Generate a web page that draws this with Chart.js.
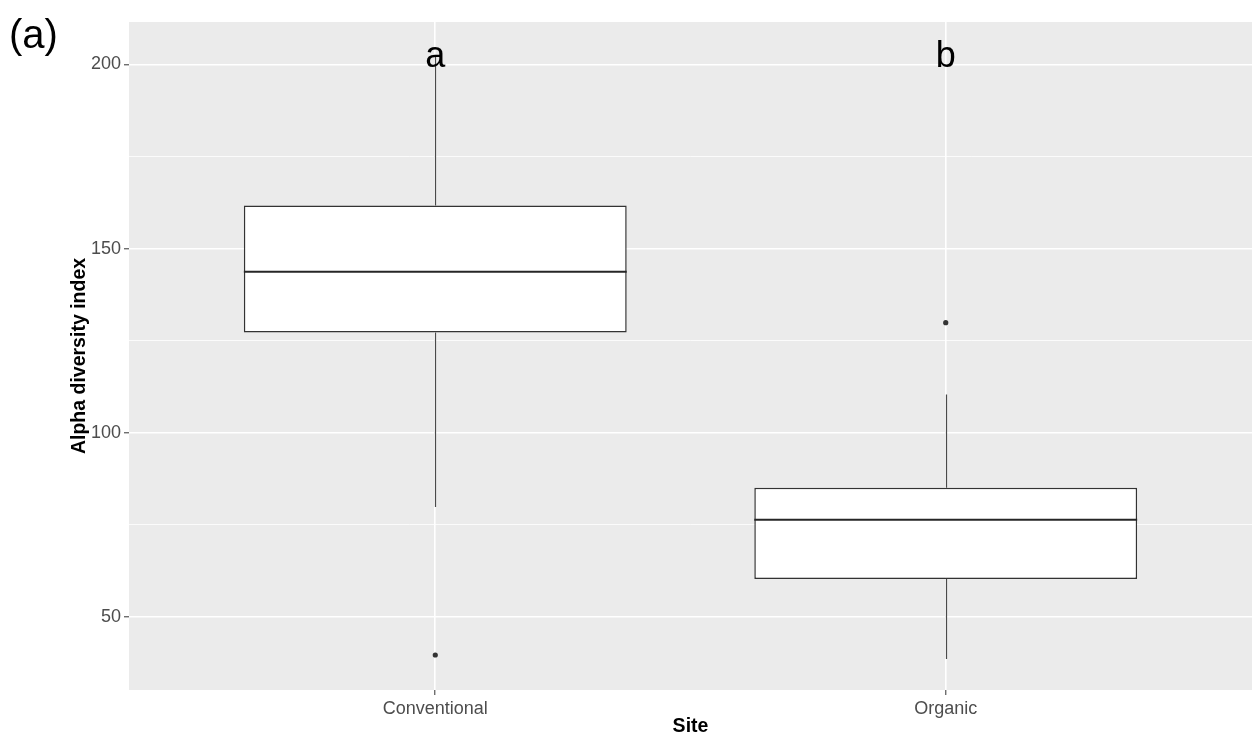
<!DOCTYPE html>
<html>
<head>
<meta charset="utf-8">
<script src="https://cdn.jsdelivr.net/npm/chart.js@4.4.1/dist/chart.umd.min.js"></script>
<style>
  html, body { margin: 0; padding: 0; background: #fff; }
  #wrap { width: 1252px; height: 738px; position: relative; }
</style>
</head>
<body>
<div id="wrap"><canvas id="box-chart"></canvas></div>
<script>
// --- data ---
const sites = ['Conventional', 'Organic'];
const whiskerLow = [79.9, 38.6];
const q1 = [127.2, 60.3];
const medians = [143.7, 76.4];
const q3 = [161.7, 85.1];
const whiskerHigh = [202, 110.4];
const outlierSite = [1, 2];          // 1 = Conventional, 2 = Organic
const outlierValues = [39.7, 129.9];
const sigLetters = ['a', 'b'];
const letterY = 199.2;
const yTicks = [50, 100, 150, 200];
const yMinorTicks = [75, 125, 175];

const FONT = "'Liberation Sans', Arial, sans-serif";
const siteX = sites.map((s, i) => i + 1);

// whiskers, medians, letters, panel tag
const boxExtras = {
  id: 'boxExtras',
  beforeDatasetsDraw(chart) {
    const { ctx, scales: { x, y } } = chart;
    ctx.save();
    ctx.strokeStyle = '#4a4a4a';
    ctx.lineWidth = 1.2;
    siteX.forEach((sx, i) => {
      const px = Math.round(x.getPixelForValue(sx)) + 0.5;
      ctx.beginPath();
      ctx.moveTo(px, y.getPixelForValue(q3[i]));
      ctx.lineTo(px, y.getPixelForValue(whiskerHigh[i]));
      ctx.moveTo(px, y.getPixelForValue(q1[i]));
      ctx.lineTo(px, y.getPixelForValue(whiskerLow[i]));
      ctx.stroke();
    });
    ctx.restore();
  },
  afterDatasetsDraw(chart) {
    const { ctx, scales: { x, y } } = chart;
    const bars = chart.getDatasetMeta(0).data;
    ctx.save();
    ctx.strokeStyle = '#262626';
    ctx.lineWidth = 2;
    bars.forEach((bar, i) => {
      const { x: bx, width } = bar.getProps(['x', 'width'], true);
      const py = y.getPixelForValue(medians[i]);
      ctx.beginPath();
      ctx.moveTo(bx - width / 2, py);
      ctx.lineTo(bx + width / 2, py);
      ctx.stroke();
    });
    // significance letters
    ctx.fillStyle = '#000';
    ctx.font = '36px ' + FONT;
    ctx.textAlign = 'center';
    ctx.textBaseline = 'alphabetic';
    siteX.forEach((sx, i) => {
      ctx.fillText(sigLetters[i], x.getPixelForValue(sx), y.getPixelForValue(letterY));
    });
    // panel tag
    ctx.font = '40px ' + FONT;
    ctx.textAlign = 'left';
    ctx.fillText('(a)', 9, 48);
    ctx.restore();
  }
};

// grey ggplot panel
const panelBg = {
  id: 'panelBg',
  beforeDraw(chart) {
    const { ctx, chartArea: a } = chart;
    ctx.save();
    ctx.fillStyle = '#EBEBEB';
    ctx.fillRect(a.left, a.top, a.right - a.left, a.bottom - a.top);
    ctx.restore();
  }
};

new Chart(document.getElementById('box-chart'), {
  data: {
    datasets: [
      {
        type: 'bar',
        label: 'IQR',
        data: siteX.map((sx, i) => ({ x: sx, y: [q1[i], q3[i]] })),
        backgroundColor: '#ffffff',
        borderColor: '#333333',
        borderWidth: 1.5,
        borderSkipped: false,
        barPercentage: 0.75,
        categoryPercentage: 1.0
      },
      {
        type: 'scatter',
        label: 'outliers',
        data: outlierSite.map((s, i) => ({ x: s, y: outlierValues[i] })),
        backgroundColor: '#333333',
        borderWidth: 0,
        pointRadius: 2.6
      }
    ]
  },
  options: {
    responsive: true,
    maintainAspectRatio: false,
    animation: false,
    layout: { autoPadding: false, padding: { top: 22, right: 0, left: 0, bottom: 0 } },
    plugins: {
      legend: { display: false },
      tooltip: { enabled: false }
    },
    scales: {
      x: {
        type: 'linear',
        min: 0.4,
        max: 2.6,
        offset: false,
        afterBuildTicks: s => { s.ticks = siteX.map(v => ({ value: v })); },
        afterFit: s => { s.height = 48; },
        border: { display: false },
        grid: {
          offset: false,
          color: '#ffffff',
          lineWidth: 1.6,
          tickLength: 5,
          tickColor: '#333333',
          tickWidth: 1
        },
        ticks: {
          padding: 3,
          color: '#4D4D4D',
          font: { family: FONT, size: 18 },
          callback: v => sites[Math.round(v) - 1] || ''
        },
        title: {
          display: true,
          text: 'Site',
          color: '#000',
          font: { family: FONT, size: 19.5, weight: 'bold' },
          padding: { top: 0, bottom: 0 }
        }
      },
      y: {
        type: 'linear',
        min: 30.2,
        max: 211.5,
        afterBuildTicks: s => {
          s.ticks = yTicks.concat(yMinorTicks).sort((a, b) => a - b).map(v => ({ value: v }));
        },
        afterFit: s => { s.width = 129; },
        border: { display: false },
        grid: {
          color: '#ffffff',
          lineWidth: c => (yTicks.includes(c.tick.value) ? 1.6 : 0.8),
          tickLength: 5,
          tickColor: c => (yTicks.includes(c.tick.value) ? '#333333' : 'rgba(0,0,0,0)'),
          tickWidth: 1
        },
        ticks: {
          padding: 3,
          color: '#4D4D4D',
          font: { family: FONT, size: 18 },
          callback: v => (yTicks.includes(v) ? String(v) : '')
        },
        title: {
          display: true,
          text: 'Alpha diversity index',
          color: '#000',
          font: { family: FONT, size: 19.5, weight: 'bold' },
          padding: { top: 68, bottom: 0 }
        }
      }
    }
  },
  plugins: [panelBg, boxExtras]
});
</script>
</body>
</html>
